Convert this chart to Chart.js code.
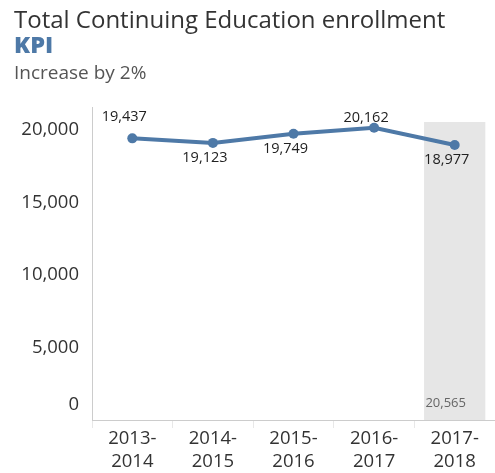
<!DOCTYPE html>
<html><head><meta charset="utf-8">
<script src="https://cdn.jsdelivr.net/npm/chart.js@4.4.0/dist/chart.umd.min.js"></script>
<style>
html,body{margin:0;padding:0;background:#fff;}
#wrap{position:relative;width:495px;height:473px;overflow:hidden;}
#c{position:absolute;left:0;top:0;}
.t1{position:absolute;left:14px;top:2px;font-family:"Open Sans",sans-serif;font-size:24px;color:#333;white-space:nowrap;}
.t2{position:absolute;left:14px;top:28px;font-family:"Open Sans",sans-serif;font-size:23.5px;font-weight:800;color:#4e79a7;}
.t3{position:absolute;left:14px;top:59px;font-family:"Open Sans",sans-serif;font-size:19px;color:#555;}
</style></head>
<body><div id="wrap">
<canvas id="c" width="495" height="473"></canvas>
<div class="t1">Total Continuing Education enrollment</div>
<div class="t2">KPI</div>
<div class="t3">Increase by 2%</div>
</div>
<script>
const categories = [["2013-","2014"],["2014-","2015"],["2015-","2016"],["2016-","2017"],["2017-","2018"]];
const enrollment = [19437, 19123, 19749, 20162, 18977];
const kpiTarget = [null, null, null, null, 20565];
const yTicks = [0, 5000, 10000, 15000, 20000];
const labelAbove = [true, false, false, true, false];

const FONT = '"Open Sans", sans-serif';
const fmt = v => v.toLocaleString('en-US');

const labelPlugin = {
  id: 'labels',
  afterDatasetsDraw(chart) {
    const ctx = chart.ctx;
    ctx.save();
    const lm = chart.getDatasetMeta(1);
    ctx.font = '14.5px ' + FONT;
    ctx.fillStyle = '#222';
    ctx.textAlign = 'center';
    ctx.textBaseline = 'middle';
    lm.data.forEach((pt, i) => {
      const v = enrollment[i];
      const dy = labelAbove[i] ? (i === 3 ? -10 : -21) : 15;
      ctx.fillText(fmt(v), pt.x - 8, pt.y + dy);
    });
    const bm = chart.getDatasetMeta(0);
    ctx.font = '13px ' + FONT;
    ctx.fillStyle = '#666';
    bm.data.forEach((b, i) => {
      const v = kpiTarget[i];
      if (v == null) return;
      ctx.fillText(fmt(v), b.x - 9, chart.scales.y.getPixelForValue(0) - 17);
    });
    ctx.font = '18.5px ' + FONT;
    ctx.fillStyle = '#333';
    ctx.textAlign = 'right';
    ctx.fillText('0', chart.chartArea.left - 13, chart.scales.y.getPixelForValue(0) - 15);
    ctx.restore();
  }
};

new Chart(document.getElementById('c'), {
  type: 'bar',
  data: {
    labels: categories,
    datasets: [
      {
        type: 'bar',
        data: kpiTarget,
        backgroundColor: '#e6e6e6',
        borderWidth: 0,
        barPercentage: 0.76,
        categoryPercentage: 1,
        order: 2
      },
      {
        type: 'line',
        data: enrollment,
        borderColor: '#4e79a7',
        backgroundColor: '#4e79a7',
        borderWidth: 4,
        pointRadius: 5,
        pointHoverRadius: 5,
        pointBackgroundColor: '#4e79a7',
        pointBorderWidth: 0,
        tension: 0,
        order: 1
      }
    ]
  },
  options: {
    responsive: false,
    animation: false,
    layout: { autoPadding: false, padding: { top: 107, right: 0, left: 0, bottom: 0 } },
    plugins: { legend: { display: false }, tooltip: { enabled: false }, title: { display: false } },
    scales: {
      x: {
        offset: true,
        grid: { display: true, drawOnChartArea: false, offset: true, tickLength: 8, color: '#e8e8e8', lineWidth: 1 },
        border: { display: true, color: '#cccccc', width: 1 },
        ticks: { color: '#333', font: { family: FONT, size: 18.5 }, padding: 0, maxRotation: 0 },
        afterFit(s) { s.height = 53; s.paddingRight = 0; s.paddingLeft = 0; }
      },
      y: {
        min: 0,
        max: 21600,
        grid: { display: false, drawTicks: false },
        border: { display: true, color: '#cccccc', width: 1 },
        ticks: {
          color: '#333', font: { family: FONT, size: 18.5 }, padding: 13,
          callback: v => v === 0 ? '' : fmt(v)
        },
        afterBuildTicks(s) { s.ticks = yTicks.map(v => ({ value: v })); },
        afterFit(s) { s.width = 92; s.paddingTop = 0; s.paddingBottom = 0; }
      }
    }
  },
  plugins: [labelPlugin]
});
</script>
</body></html>
